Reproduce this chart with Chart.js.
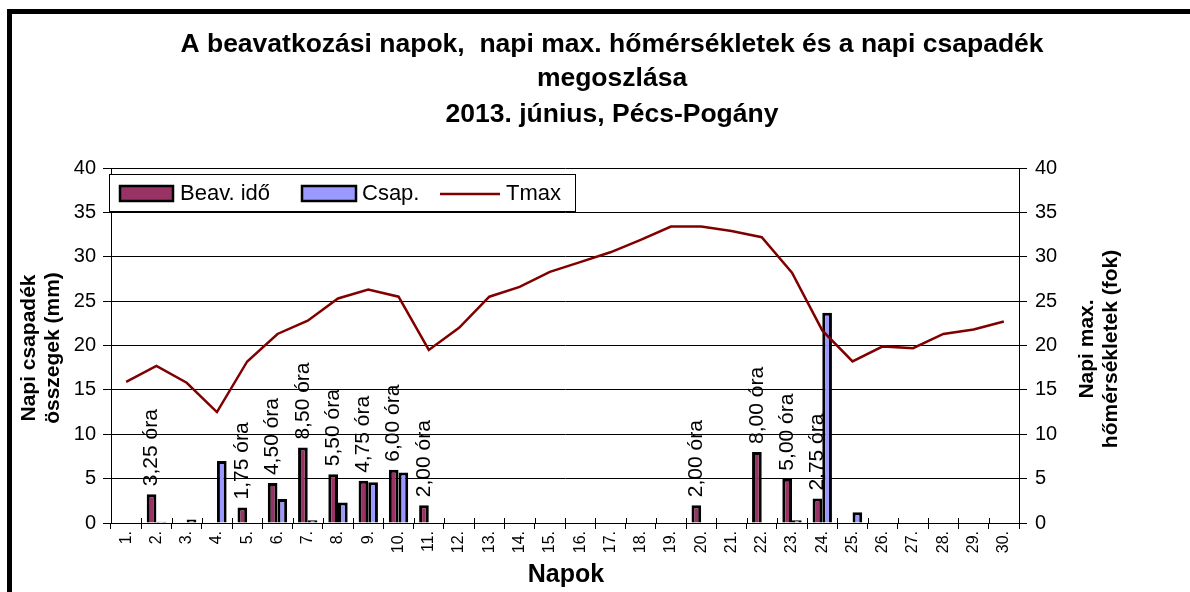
<!DOCTYPE html>
<html>
<head>
<meta charset="utf-8">
<script src="https://cdn.jsdelivr.net/npm/chart.js@4/dist/chart.umd.min.js"></script>
<style>
html,body{margin:0;padding:0;background:#fff;}
#wrap{position:relative;width:1190px;height:592px;}
canvas{display:block;}
</style>
</head>
<body>
<div id="wrap"><canvas id="c" width="1190" height="592"></canvas></div>
<script>
const days = ['1.','2.','3.','4.','5.','6.','7.','8.','9.','10.','11.','12.','13.','14.','15.','16.','17.','18.','19.','20.','21.','22.','23.','24.','25.','26.','27.','28.','29.','30.'];
const beavIdo = [0,3.25,0,0,1.75,4.5,8.5,5.5,4.75,6.0,2.0,0,0,0,0,0,0,0,0,2.0,0,8.0,5.0,2.75,0,0,0,0,0,0];
const csap = [0,0.15,0.4,7.0,0,2.7,0.3,2.3,4.6,5.7,0,0,0,0,0,0,0,0,0,0,0,0,0.3,23.7,1.2,0,0,0,0,0];
const tmax = [15.9,17.7,15.8,12.5,18.2,21.3,22.8,25.3,26.3,25.5,19.5,22.0,25.5,26.6,28.3,29.4,30.5,31.9,33.4,33.4,32.9,32.2,28.2,21.7,18.2,19.9,19.7,21.3,21.8,22.7];
const yTicks = [0,5,10,15,20,25,30,35,40];
const titleLines = ['A beavatkozási napok,  napi max. hőmérsékletek és a napi csapadék','megoszlása','2013. június, Pécs-Pogány'];
const legendLabels = ['Beav. idő','Csap.','Tmax'];

const FONT = "'Liberation Sans', Arial, sans-serif";
const C_BEAV = '#993366', C_CSAP = '#9999FF', C_TMAX = '#800000';

const labelPlugin = {
  id:'barLabels',
  beforeDatasetsDraw(chart){
    const ctx = chart.ctx;
    const meta = chart.getDatasetMeta(0);
    ctx.save();
    ctx.font = '21px ' + FONT;
    ctx.fillStyle = '#000';
    ctx.textAlign = 'left';
    ctx.textBaseline = 'middle';
    meta.data.forEach((bar, i) => {
      const v = beavIdo[i];
      if (!v) return;
      const txt = v.toFixed(2).replace('.', ',') + ' óra';
      ctx.save();
      ctx.translate(bar.x, bar.y - 8);
      ctx.rotate(-Math.PI/2);
      ctx.fillText(txt, 0, 0);
      ctx.restore();
    });
    ctx.restore();
  }
};

const decoPlugin = {
  id:'deco',
  afterDraw(chart){
    const ctx = chart.ctx;
    const area = chart.chartArea;
    ctx.save();
    ctx.strokeStyle = '#000'; ctx.lineWidth = 1;
    const w = (area.right - area.left) / days.length;
    for (let i = 1; i < days.length; i++) {
      const x = Math.round(area.left + i*w) + 0.5;
      ctx.beginPath(); ctx.moveTo(x, area.bottom - 5); ctx.lineTo(x, area.bottom); ctx.stroke();
    }
    ctx.fillStyle = '#000';
    ctx.textAlign = 'center';
    ctx.textBaseline = 'middle';
    ctx.font = 'bold 26.5px ' + FONT;
    const ty = [45, 79, 115];
    titleLines.forEach((t, i) => ctx.fillText(t, 612, ty[i]));
    ctx.font = 'bold 25px ' + FONT;
    ctx.fillText('Napok', 566, 575);
    ctx.font = 'bold 21px ' + FONT;
    ctx.save(); ctx.translate(29, 348); ctx.rotate(-Math.PI/2);
    ctx.fillText('Napi csapadék', 0, 0);
    ctx.fillText('összegek (mm)', 0, 24);
    ctx.restore();
    ctx.save(); ctx.translate(1087, 349); ctx.rotate(-Math.PI/2);
    ctx.fillText('Napi max.', 0, 0);
    ctx.fillText('hőmérsékletek (fok)', 0, 24);
    ctx.restore();
    // legend
    ctx.fillStyle = '#fff';
    ctx.fillRect(109, 174, 466, 37);
    ctx.strokeStyle = '#000'; ctx.lineWidth = 1;
    ctx.strokeRect(109.5, 174.5, 466, 37);
    ctx.lineWidth = 2.5;
    ctx.fillStyle = C_BEAV; ctx.fillRect(120, 186, 53, 15); ctx.strokeRect(120, 186, 53, 15);
    ctx.fillStyle = C_CSAP; ctx.fillRect(302, 186, 54, 15); ctx.strokeRect(302, 186, 54, 15);
    ctx.strokeStyle = C_TMAX; ctx.lineWidth = 2.5;
    ctx.beginPath(); ctx.moveTo(440, 194); ctx.lineTo(500, 194); ctx.stroke();
    ctx.fillStyle = '#000';
    ctx.textAlign = 'left';
    ctx.font = '22px ' + FONT;
    ctx.fillText(legendLabels[0], 180, 194);
    ctx.fillText(legendLabels[1], 362, 194);
    ctx.fillText(legendLabels[2], 506, 194);
    // frame
    ctx.fillStyle = '#000';
    ctx.fillRect(7, 9, 1183, 5);
    ctx.fillRect(7, 9, 5, 583);
    ctx.restore();
  }
};

new Chart(document.getElementById('c'), {
  type:'bar',
  data:{
    labels: days,
    datasets:[
      {label:legendLabels[0], data:beavIdo, backgroundColor:C_BEAV, borderColor:'#000', borderWidth:3, yAxisID:'y', order:1, barPercentage:1, categoryPercentage:0.64},
      {label:legendLabels[1], data:csap, backgroundColor:C_CSAP, borderColor:'#000', borderWidth:3, yAxisID:'y', order:1, barPercentage:1, categoryPercentage:0.64},
      {type:'line', label:legendLabels[2], data:tmax, borderColor:C_TMAX, borderWidth:2.5, pointRadius:0, tension:0, fill:false, yAxisID:'y1', order:0}
    ]
  },
  options:{
    responsive:false,
    animation:false,
    devicePixelRatio:1,
    layout:{padding:{top:168, left:0, right:0, bottom:0}},
    plugins:{legend:{display:false}, tooltip:{enabled:false}, title:{display:false}},
    scales:{
      x:{
        offset:true,
        grid:{offset:true, drawOnChartArea:false, tickLength:6, color:'#000'},
        border:{color:'#000', width:1},
        ticks:{font:{family:FONT, size:16}, color:'#000', minRotation:90, maxRotation:90, autoSkip:false, padding:2},
        afterFit(s){ s.height = 69; }
      },
      y:{
        position:'left', min:0, max:40,
        afterBuildTicks(s){ s.ticks = yTicks.map(v=>({value:v})); },
        grid:{color:'#000', lineWidth:1, tickLength:8},
        border:{color:'#000', width:1},
        ticks:{font:{family:FONT, size:20}, color:'#000', padding:7},
        afterFit(s){ s.width = 111; }
      },
      y1:{
        position:'right', min:0, max:40,
        afterBuildTicks(s){ s.ticks = yTicks.map(v=>({value:v})); },
        grid:{drawOnChartArea:false, color:'#000', tickLength:8},
        border:{color:'#000', width:1},
        ticks:{font:{family:FONT, size:20}, color:'#000', padding:8},
        afterFit(s){ s.width = 171; }
      }
    }
  },
  plugins:[labelPlugin, decoPlugin]
});
</script>
</body>
</html>
